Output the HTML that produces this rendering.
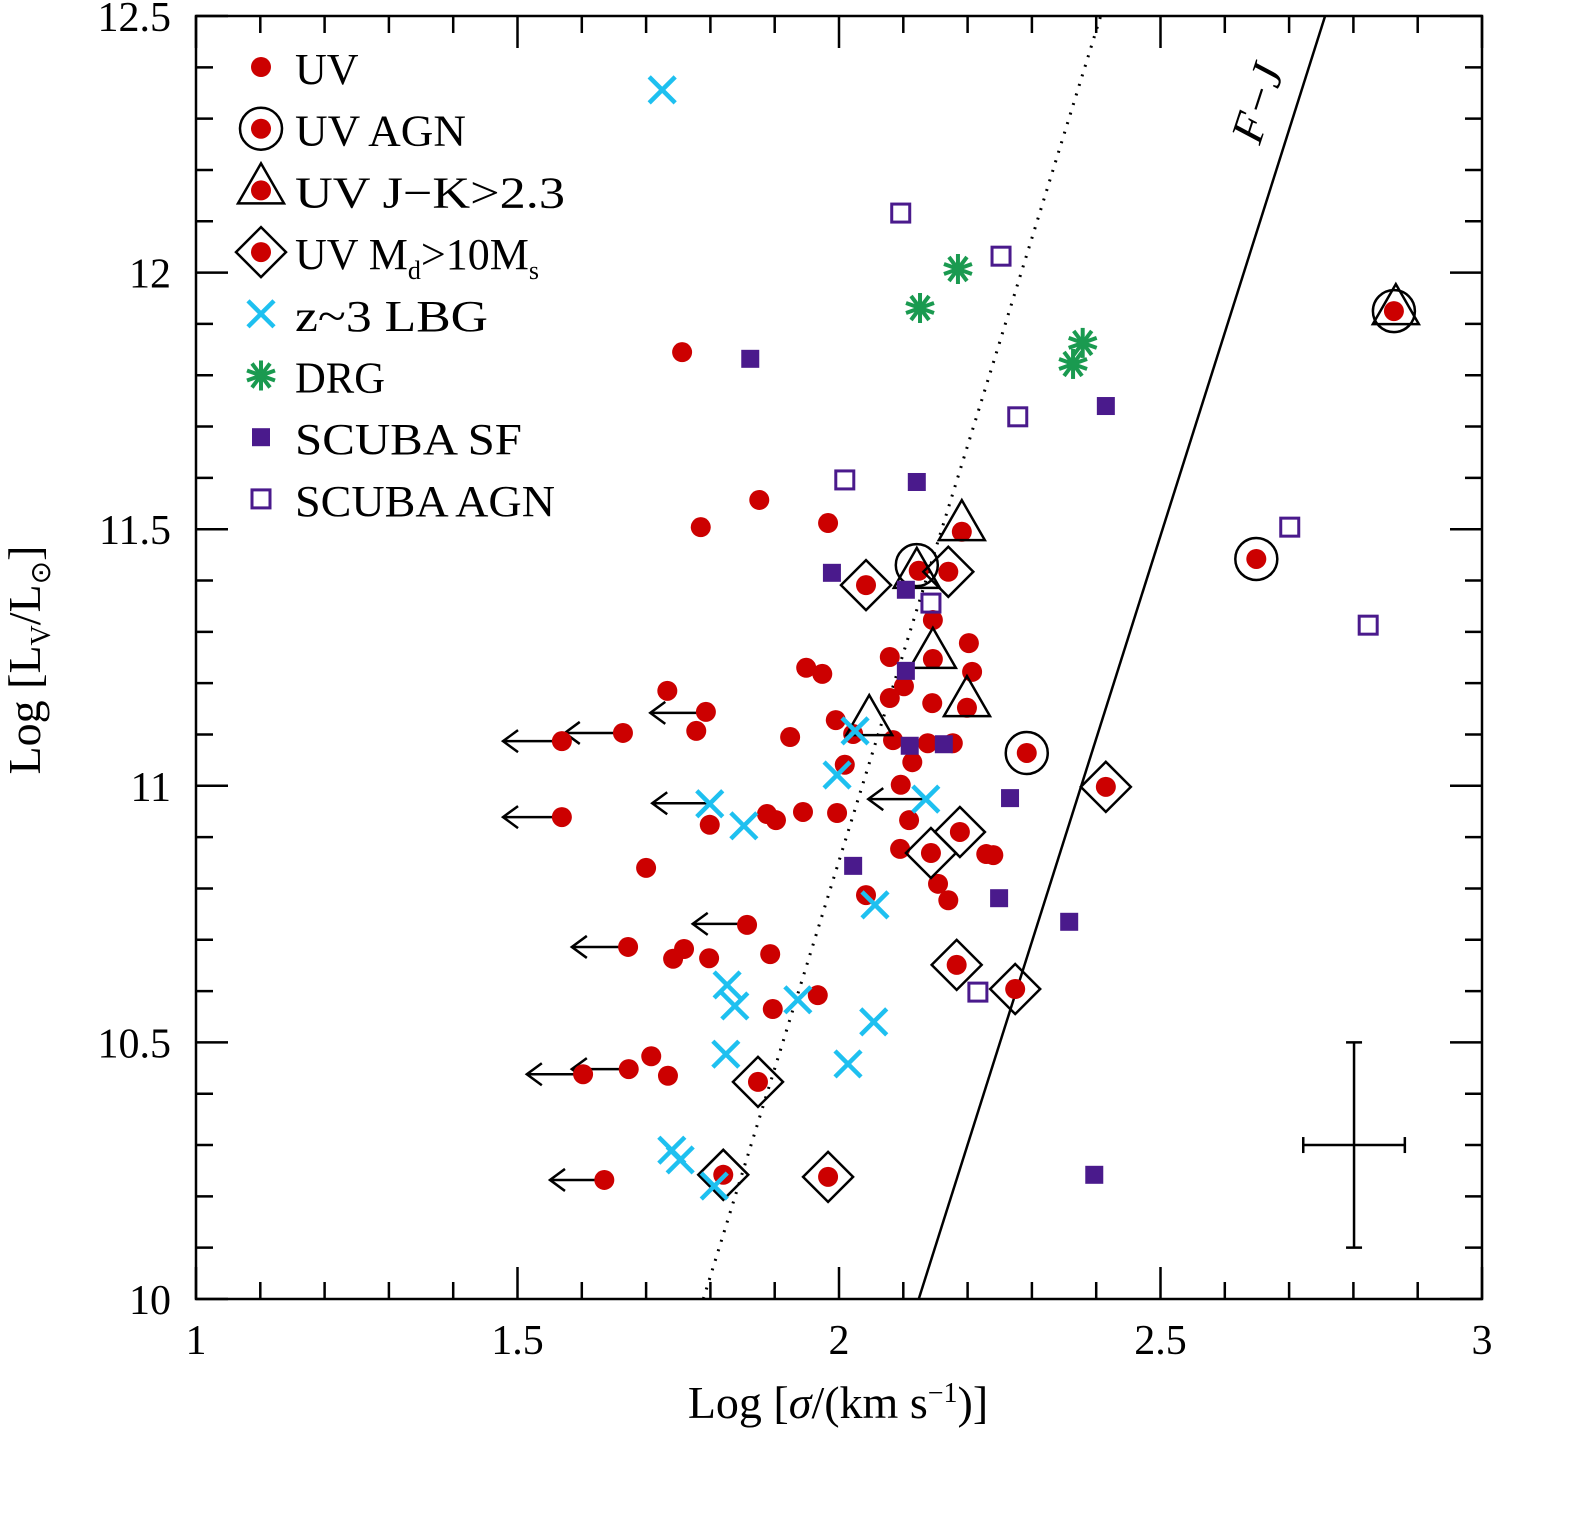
<!DOCTYPE html>
<html><head><meta charset="utf-8"><style>
html,body{margin:0;padding:0;background:#fff;}
svg{display:block;font-family:"Liberation Serif",serif;}
</style></head><body>
<svg id="c" width="1573" height="1523" viewBox="0 0 1573 1523">
<rect width="1573" height="1523" fill="#fff"/>
<g id="plot"></g>
</svg>
<script>
// ---- data ----
const uvX=[1.756,1.876,1.785,1.983,2.042,2.191,2.124,2.170,2.146,2.202,1.949,1.974,2.079,2.207,2.101,1.733,1.793,2.146,2.145,2.199,2.079,1.664,1.778,1.924,1.995,2.022,2.084,2.138,2.177,2.114,2.009,2.292,1.569,1.569,2.096,1.888,1.902,1.944,1.997,1.799,2.109,2.188,2.143,2.095,2.229,2.240,1.700,2.042,2.154,2.170,1.857,1.759,1.672,1.742,1.893,1.798,2.183,2.274,1.967,1.897,1.708,1.734,1.673,1.602,1.874,1.635,1.820,1.983,2.415,2.649,2.863];
const uvY=[11.845,11.557,11.504,11.512,11.391,11.495,11.419,11.417,11.323,11.278,11.230,11.218,11.251,11.222,11.194,11.185,11.144,11.247,11.161,11.152,11.171,11.103,11.107,11.095,11.128,11.101,11.089,11.083,11.083,11.046,11.041,11.064,11.087,10.939,11.002,10.945,10.933,10.949,10.947,10.924,10.933,10.910,10.869,10.877,10.867,10.865,10.840,10.787,10.809,10.777,10.729,10.682,10.686,10.663,10.672,10.664,10.651,10.604,10.592,10.565,10.473,10.435,10.448,10.438,10.423,10.232,10.242,10.238,10.998,11.442,11.925];
const agnX=[2.121,2.292,2.649,2.863];
const agnY=[11.430,11.064,11.442,11.925];
const jkX=[2.191,2.121,2.146,2.199,2.047,2.866];
const jkY=[11.504,11.411,11.255,11.161,11.124,11.925];
const mdX=[2.042,2.170,2.188,2.143,2.183,2.274,2.415,1.874,1.820,1.983];
const mdY=[11.391,11.417,10.910,10.869,10.651,10.604,10.998,10.423,10.242,10.238];
const lbgX=[1.725,2.025,1.997,1.799,1.852,2.135,2.056,1.826,1.838,1.936,2.054,1.824,2.014,1.740,1.753,1.806];
const lbgY=[12.356,11.107,11.021,10.965,10.922,10.974,10.768,10.612,10.571,10.583,10.540,10.477,10.458,10.290,10.271,10.220];
const drgX=[2.126,2.185,2.364,2.379];
const drgY=[11.931,12.007,11.822,11.863];
const sfX=[1.862,2.415,2.121,1.989,2.104,2.104,2.110,2.163,2.266,2.022,2.249,2.358,2.397];
const sfY=[11.832,11.740,11.592,11.415,11.382,11.224,11.078,11.081,10.976,10.844,10.781,10.735,10.242];
const sagnX=[2.096,2.252,2.278,2.009,2.143,2.701,2.823,2.216];
const sagnY=[12.116,12.032,11.719,11.596,11.356,11.504,11.313,10.598];
const limX=[1.563,1.659,1.792,1.563,1.795,2.131,1.858,1.670,1.600,1.670,1.636];
const limY=[11.087,11.103,11.142,10.939,10.966,10.974,10.731,10.686,10.438,10.448,10.232];
const limLen=0.0855;
const dotLine=[[1.789,10],[2.407,12.5]];
const fjLine=[[2.124,10],[2.756,12.5]];
const errC=[2.801,10.300], errDX=0.079, errDY=0.2;
const xTicks=[1,1.5,2,2.5,3], xTickLabels=["1","1.5","2","2.5","3"];
const yTicks=[10,10.5,11,11.5,12,12.5], yTickLabels=["10","10.5","11","11.5","12","12.5"];
// ---- axes ----
const X0=196,X1=1482,Y0=1299,Y1=16;
const sx=v=>X0+(v-1)/2*(X1-X0);
const sy=v=>Y0-(v-10)/2.5*(Y0-Y1);
const NS="http://www.w3.org/2000/svg";
const plot=document.getElementById('plot');
function mk(tag,attrs,parent){const e=document.createElementNS(NS,tag);for(const k in attrs)e.setAttribute(k,attrs[k]);(parent||plot).appendChild(e);return e;}
const RED="#cc0000",BLUE="#1ec0f0",GREEN="#1a9a50",PUR="#4a1a8c";
// frame
let fr=mk('rect',{x:X0,y:Y1,width:X1-X0,height:Y0-Y1,fill:'none',stroke:'#000','stroke-width':2.5});


// ticks
for(let i=0;i<=20;i++){const v=1+i*0.1;const x=sx(v);const maj=i%5==0;const L=maj?32:17;
 mk('line',{x1:x,y1:Y0,x2:x,y2:Y0-L,stroke:'#000','stroke-width':2.5});
 mk('line',{x1:x,y1:Y1,x2:x,y2:Y1+L,stroke:'#000','stroke-width':2.5});}
for(let i=0;i<=25;i++){const v=10+i*0.1;const y=sy(v);const maj=i%5==0;const L=maj?32:17;
 mk('line',{x1:X0,y1:y,x2:X0+L,y2:y,stroke:'#000','stroke-width':2.5});
 mk('line',{x1:X1,y1:y,x2:X1-L,y2:y,stroke:'#000','stroke-width':2.5});}
xTicks.forEach((v,i)=>{const t=mk('text',{x:sx(v),y:1354,'font-size':42,'text-anchor':'middle'});t.textContent=xTickLabels[i];
 
 });
yTicks.forEach((v,i)=>{const t=mk('text',{x:171,y:sy(v)+15,'font-size':42,'text-anchor':'end'});t.textContent=yTickLabels[i];
 
 });
// axis titles
let xt=mk('text',{x:838,y:1418,'font-size':46,'text-anchor':'middle'});
xt.innerHTML='Log [<tspan font-style="italic">σ</tspan>/(km s<tspan font-size="28" dy="-16">−1</tspan><tspan dy="16">)]</tspan>';


let yt=mk('text',{x:0,y:0,'font-size':46,'text-anchor':'middle',transform:'translate(40,660) rotate(-90)'});
yt.innerHTML='Log [L<tspan font-size="28" dy="10">V</tspan><tspan dy="-10">/L</tspan><tspan font-size="28" dy="10">⊙</tspan><tspan dy="-10">]</tspan>';


// lines
let dl=mk('line',{x1:sx(dotLine[0][0]),y1:sy(dotLine[0][1]),x2:sx(dotLine[1][0]),y2:sy(dotLine[1][1]),stroke:'#000','stroke-width':3,'stroke-dasharray':'2 8'});


let fl=mk('line',{x1:sx(fjLine[0][0]),y1:sy(fjLine[0][1]),x2:sx(fjLine[1][0]),y2:sy(fjLine[1][1]),stroke:'#000','stroke-width':2.5});


let fjt=mk('text',{x:0,y:0,'font-size':46,'font-style':'italic','text-anchor':'middle',transform:'translate(1272,108) rotate(-72)'});
fjt.textContent='F−J';


// markers
function dot(x,y,g){return mk('circle',{cx:x,cy:y,r:10,fill:RED},g);}
function ring(x,y,g){return mk('circle',{cx:x,cy:y,r:21,fill:'none',stroke:'#000','stroke-width':2.5},g);}
function tri(x,y,g){return mk('polygon',{points:`${x},${y-27} ${x-23},${y+13} ${x+23},${y+13}`,fill:'none',stroke:'#000','stroke-width':2.5},g);}
function dia(x,y,g){return mk('polygon',{points:`${x},${y-25} ${x+25},${y} ${x},${y+25} ${x-25},${y}`,fill:'none',stroke:'#000','stroke-width':2.5},g);}
function cross(x,y,g){const gg=mk('g',{stroke:BLUE,'stroke-width':4.5},g);mk('line',{x1:x-13,y1:y-13,x2:x+13,y2:y+13},gg);mk('line',{x1:x-13,y1:y+13,x2:x+13,y2:y-13},gg);return gg;}
function star(x,y,g){const gg=mk('g',{stroke:GREEN,'stroke-width':4},g);mk('line',{x1:x,y1:y-15,x2:x,y2:y+15},gg);mk('line',{x1:x-14,y1:y-5,x2:x+14,y2:y+5},gg);mk('line',{x1:x-14,y1:y+5,x2:x+14,y2:y-5},gg);mk('line',{x1:x-9,y1:y+12,x2:x+9,y2:y-12},gg);mk('line',{x1:x-9,y1:y-12,x2:x+9,y2:y+12},gg);return gg;}
function sqf(x,y,g){return mk('rect',{x:x-9,y:y-9,width:18,height:18,fill:PUR},g);}
function sqo(x,y,g){return mk('rect',{x:x-9,y:y-9,width:18,height:18,fill:'none',stroke:PUR,'stroke-width':3},g);}
function arrow(x,y,g){const gg=mk('g',{stroke:'#000','stroke-width':2.5,fill:'none'},g);const x2=x-(sx(1+limLen)-sx(1));mk('line',{x1:x,y1:y,x2:x2,y2:y},gg);mk('polyline',{points:`${x2+15},${y-11} ${x2},${y} ${x2+15},${y+11}`},gg);return gg;}
function series(name,xs,ys,fn){const g=mk('g',{});
 xs.forEach((v,i)=>{const m=fn(sx(v),sy(ys[i]),g);});}
series('upper-limit-arrows',limX,limY,arrow);
series('uv-points',uvX,uvY,dot);
series('uv-agn-rings',agnX,agnY,ring);
series('uv-jk-triangles',jkX,jkY,tri);
series('uv-dust-diamonds',mdX,mdY,dia);
series('lbg-points',lbgX,lbgY,cross);
series('drg-points',drgX,drgY,star);
series('scuba-sf-points',sfX,sfY,sqf);
series('scuba-agn-points',sagnX,sagnY,sqo);
// error bar
const eg=mk('g',{stroke:'#000','stroke-width':2.5});


const ex=sx(errC[0]),ey=sy(errC[1]),ehx=sx(1+errDX)-sx(1),ehy=sy(10)-sy(10+errDY);
mk('line',{x1:ex-ehx,y1:ey,x2:ex+ehx,y2:ey},eg);mk('line',{x1:ex,y1:ey-ehy,x2:ex,y2:ey+ehy},eg);
mk('line',{x1:ex-ehx,y1:ey-8,x2:ex-ehx,y2:ey+8},eg);mk('line',{x1:ex+ehx,y1:ey-8,x2:ex+ehx,y2:ey+8},eg);
mk('line',{x1:ex-8,y1:ey-ehy,x2:ex+8,y2:ey-ehy},eg);mk('line',{x1:ex-8,y1:ey+ehy,x2:ex+8,y2:ey+ehy},eg);
// legend
const lg=mk('g',{});


const legRows=[['UV',[dot],280],['UV  AGN',[ring,dot],171],['UV  J−K>2.3',[tri,dot],270],['UV  M_d>10M_s',[dia,dot],270],['z~3  LBG',[cross],193],['DRG',[star],90],['SCUBA  SF',[sqf],227],['SCUBA  AGN',[sqo],260]];
legRows.forEach((r,i)=>{const y=67+i*61.7;const e=mk('g',{},lg);
 
 
 r[1].forEach(f=>f(261,y,e));
 const t=mk('text',{x:295,y:y+17,'font-size':44,'xml:space':'preserve'},e);
 if(r[0].includes('M_d')){t.innerHTML='UV  M<tspan font-size="26" dy="10">d</tspan><tspan dy="-10">&gt;10M</tspan><tspan font-size="26" dy="10">s</tspan>';}
 else {t.textContent=r[0]; if(r[2]!==280) {t.setAttribute('textLength',r[2]);t.setAttribute('lengthAdjust','spacingAndGlyphs');}}
});
</script>
</body></html>
